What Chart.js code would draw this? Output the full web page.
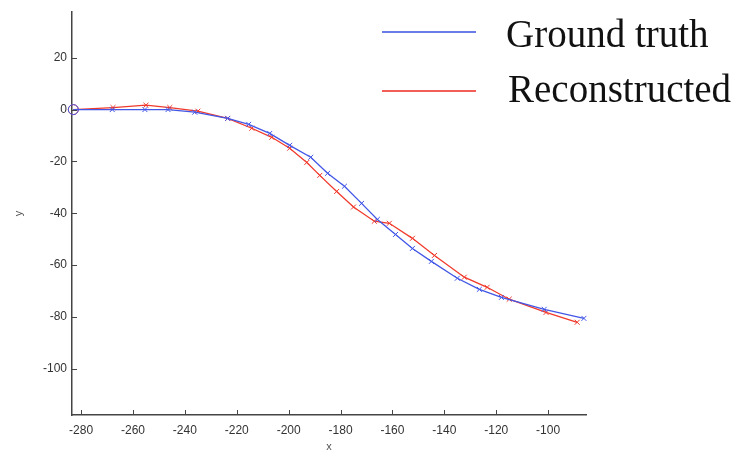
<!DOCTYPE html>
<html>
<head>
<meta charset="utf-8">
<script src="https://cdn.jsdelivr.net/npm/chart.js@4"></script>
<style>
  html, body { margin: 0; padding: 0; background: #fff; }
  #wrap { width: 739px; height: 456px; }
</style>
</head>
<body>
<div id="wrap"><canvas id="chart"></canvas></div>
<script>
// Ground truth (blau)
var gtX = [-283, -268, -255.4, -246.5, -236.2, -223.5, -215.4, -207.3, -199.6, -191.5, -185, -178.5, -171.9, -165.8, -158.8, -152.3, -145, -135, -126.5, -118, -101.5, -86.2];
var gtY = [0, 0, 0, 0, -1, -3.4, -5.7, -9.2, -13.8, -18.4, -24.6, -29.6, -36.2, -42.4, -48.2, -53.6, -58.6, -65.1, -69.4, -72.5, -77.1, -80.6];

// Reconstructed (rot)
var recX = [-283, -267.7, -255, -245.8, -235, -223.5, -214.2, -206.5, -199.6, -193, -188, -181.5, -175, -167, -161.2, -152.3, -143.8, -132.3, -123.5, -115, -100.8, -88.8];
var recY = [0, 0.8, 1.7, 0.8, -0.6, -3.4, -7.2, -10.7, -14.9, -20.4, -25.4, -31.6, -37.6, -43.1, -43.9, -49.7, -56.3, -64.7, -68.6, -73.2, -78.3, -82.1];

var xTicks = [-280, -260, -240, -220, -200, -180, -160, -140, -120, -100];
var yTicks = [20, 0, -20, -40, -60, -80, -100];

var legendLabels = ["Ground truth", "Reconstructed"];

function punkte(xs, ys) {
  return xs.map(function (x, i) { return { x: x, y: ys[i] }; });
}

function punktStile(n) {
  // erster Punkt als Kreis, Rest als Kreuz
  var stile = [];
  for (var i = 0; i < n; i++) stile.push(i === 0 ? "circle" : "crossRot");
  return stile;
}

function punktRadien(n) {
  var r = [];
  for (var i = 0; i < n; i++) r.push(i === 0 ? 5 : 3.5);
  return r;
}

// Striche nach innen und Legende selbst zeichnen
var extrasPlugin = {
  id: "extras",
  afterDraw: function (chart) {
    var ctx = chart.ctx;
    var area = chart.chartArea;
    var xs = chart.scales.x;
    var ys = chart.scales.y;
    ctx.save();
    ctx.strokeStyle = "#444";
    ctx.lineWidth = 1;
    xTicks.forEach(function (v) {
      var px = Math.round(xs.getPixelForValue(v)) + 0.5;
      ctx.beginPath();
      ctx.moveTo(px, area.bottom);
      ctx.lineTo(px, area.bottom - 5);
      ctx.stroke();
    });
    yTicks.forEach(function (v) {
      var py = Math.round(ys.getPixelForValue(v)) + 0.5;
      ctx.beginPath();
      ctx.moveTo(area.left, py);
      ctx.lineTo(area.left + 5, py);
      ctx.stroke();
    });

    // Legende
    var farben = ["#3a4fe0", "#ee2a22"];
    var zeilenY = [32, 91];
    var textY = [47, 102];
    ctx.lineWidth = 1.5;
    ctx.font = "39px 'Liberation Serif', 'DejaVu Serif', serif";
    ctx.fillStyle = "#111";
    ctx.textBaseline = "alphabetic";
    legendLabels.forEach(function (label, i) {
      ctx.strokeStyle = farben[i];
      ctx.beginPath();
      ctx.moveTo(382, zeilenY[i]);
      ctx.lineTo(476, zeilenY[i]);
      ctx.stroke();
      ctx.fillText(label, i === 0 ? 506 : 508, textY[i]);
    });
    ctx.restore();
  }
};

var canvas = document.getElementById("chart").getContext("2d");
window.chartHaupt = new Chart(canvas, {
  type: "line",
  data: {
    datasets: [
      {
        label: legendLabels[0],
        data: punkte(gtX, gtY),
        borderColor: "#4257e6",
        backgroundColor: "#4257e6",
        borderWidth: 1.3,
        pointStyle: punktStile(gtX.length),
        pointRadius: punktRadien(gtX.length),
        pointBorderWidth: 1,
        pointBackgroundColor: "rgba(0,0,0,0)",
        pointBorderColor: "#4257e6",
        tension: 0,
        clip: false,
      },
      {
        label: legendLabels[1],
        data: punkte(recX, recY),
        borderColor: "#f03a2c",
        backgroundColor: "#f03a2c",
        borderWidth: 1.3,
        pointStyle: punktStile(recX.length),
        pointRadius: punktRadien(recX.length),
        pointBorderWidth: 1,
        pointBackgroundColor: "rgba(0,0,0,0)",
        pointBorderColor: "#f03a2c",
        tension: 0,
        clip: false,
      },
    ],
  },
  options: {
    animation: false,
    responsive: true,
    maintainAspectRatio: false,
    layout: {
      padding: { top: 12, right: 153, left: 0, bottom: 0 },
    },
    plugins: {
      legend: { display: false },
      tooltip: { enabled: false },
    },
    scales: {
      x: {
        type: "linear",
        min: -283.5,
        max: -85.4,
        afterBuildTicks: function (s) {
          s.ticks = xTicks.map(function (v) { return { value: v }; });
        },
        afterFit: function (s) { s.height = 41; },
        grid: { display: true, drawOnChartArea: false, drawTicks: false },
        border: { display: true, color: "#444", width: 1.5 },
        ticks: {
          color: "#333",
          padding: 8,
          maxRotation: 0,
          font: { family: "'Liberation Sans', Arial, sans-serif", size: 12 },
        },
        title: {
          display: true,
          text: "x",
          color: "#555",
          padding: { top: 0, bottom: 2 },
          font: { family: "'Liberation Sans', Arial, sans-serif", size: 11 },
        },
      },
      y: {
        type: "linear",
        min: -117.9,
        max: 37.6,
        afterBuildTicks: function (s) {
          s.ticks = yTicks.map(function (v) { return { value: v }; });
        },
        afterFit: function (s) { s.width = 72; },
        grid: { display: true, drawOnChartArea: false, drawTicks: false },
        border: { display: true, color: "#444", width: 1.5 },
        ticks: {
          color: "#333",
          padding: 5,
          font: { family: "'Liberation Sans', Arial, sans-serif", size: 12 },
        },
        title: {
          display: true,
          text: "y",
          color: "#555",
          padding: { top: 12, bottom: 0 },
          font: { family: "'Liberation Sans', Arial, sans-serif", size: 11 },
        },
      },
    },
  },
  plugins: [extrasPlugin],
});
</script>
</body>
</html>
